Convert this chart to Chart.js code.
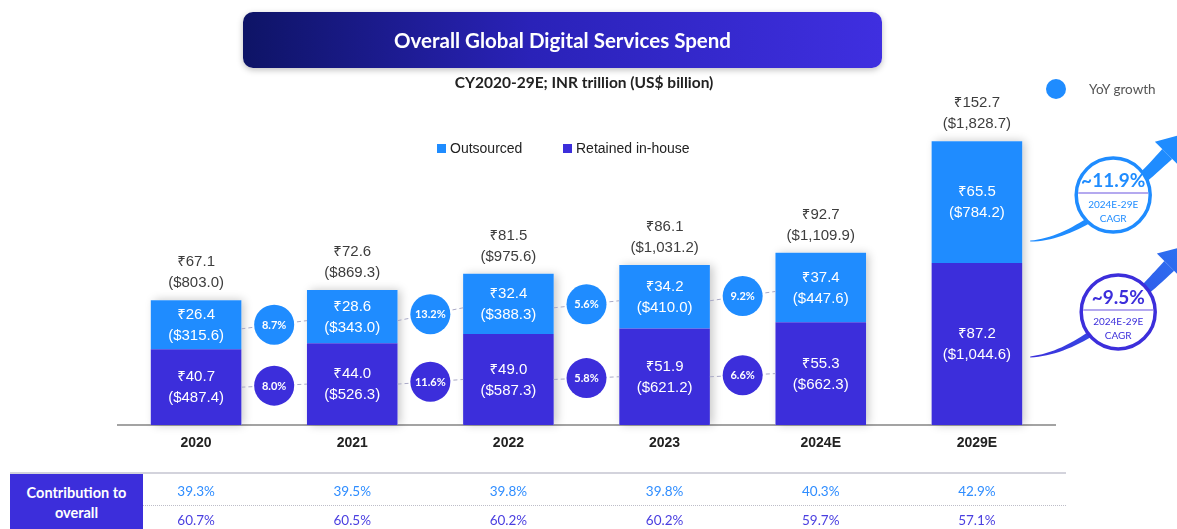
<!DOCTYPE html>
<html>
<head>
<meta charset="utf-8">
<script src="https://cdn.jsdelivr.net/npm/chart.js@4"></script>
<style>
  body { margin: 0; width: 1177px; height: 529px; overflow: hidden; background: #fff; position: relative; font-family: Lato, "Noto Sans", sans-serif; }
  #chart { position: absolute; left: 0; top: 0; }
  .banner { position: absolute; left: 243px; top: 12px; width: 639px; height: 56px; border-radius: 10px;
    background: linear-gradient(90deg, #0e1466 0%, #2a22b8 45%, #3f2fe0 100%);
    box-shadow: 0 2px 6px rgba(0,0,0,0.25); color: #fff; font-weight: 700; font-size: 20.5px;
    display: flex; align-items: center; justify-content: center; }
  .subtitle { position: absolute; left: 384px; width: 400px; top: 74px; line-height: 16px; text-align: center;
    font-weight: 700; font-size: 15.5px; color: #222; }
  .legend { position: absolute; top: 140px; line-height: 16px; font-family: "Liberation Sans", Arial, sans-serif; font-size: 14px; color: #222; }
  .legend i { position: absolute; left: -13px; top: 4px; width: 9px; height: 9px; }
  .yoy-key { position: absolute; left: 1046px; top: 79px; width: 20px; height: 20px; border-radius: 50%; background: #1f8cff; }
  .yoy-text { position: absolute; left: 1089px; top: 81px; font-size: 13.5px; color: #555; line-height: 16px; }
  .tline { position: absolute; left: 10px; top: 472px; width: 1056px; height: 2px; background: #d3d3dc; }
  .tdots { position: absolute; left: 143px; top: 505px; width: 923px; border-top: 1px dotted #bdbdc8; }
  .tbox { position: absolute; left: 10px; top: 474px; width: 133px; height: 55px; background: #3c2edb; color: #fff;
    font-weight: 700; font-size: 14.5px; line-height: 20px; text-align: center; padding-top: 9px; box-sizing: border-box; }
  .cell { position: absolute; transform: translate(-50%, -50%); font-size: 13.5px; white-space: nowrap; }
</style>
</head>
<body>
<canvas id="chart" width="1177" height="529"></canvas>
<div class="banner">Overall Global Digital Services Spend</div>
<div class="subtitle">CY2020-29E; INR trillion (US$ billion)</div>
<div class="legend" style="left:450px"><i style="background:#1f8cff"></i>Outsourced</div>
<div class="legend" style="left:576px"><i style="background:#3c2edb"></i>Retained in-house</div>
<div class="yoy-key"></div>
<div class="yoy-text">YoY growth</div>
<div class="tline"></div>
<div class="tdots"></div>
<div class="tbox">Contribution to<br>overall</div>
<script>
// Data
const categories = ['2020', '2021', '2022', '2023', '2024E', '2029E'];
const outsourcedInr = [26.4, 28.6, 32.4, 34.2, 37.4, 65.5];
const outsourcedUsd = [315.6, 343.0, 388.3, 410.0, 447.6, 784.2];
const retainedInr = [40.7, 44.0, 49.0, 51.9, 55.3, 87.2];
const retainedUsd = [487.4, 526.3, 587.3, 621.2, 662.3, 1044.6];
const totalInr = [67.1, 72.6, 81.5, 86.1, 92.7, 152.7];
const totalUsd = [803.0, 869.3, 975.6, 1031.2, 1109.9, 1828.7];
const yoyOutsourced = [8.7, 13.2, 5.6, 9.2];
const yoyRetained = [8.0, 11.6, 5.8, 6.6];
const cagrOutsourced = 11.9;
const cagrRetained = 9.5;
const cagrPeriod = '2024E-29E';
const shareOutsourced = [39.3, 39.5, 39.8, 39.8, 40.3, 42.9];
const shareRetained = [60.7, 60.5, 60.2, 60.2, 59.7, 57.1];

const BLUE = '#1f8cff';
const PURPLE = '#3c2edb';
const LABEL_FONT = '"Liberation Sans", Arial, "Noto Sans", "DejaVu Sans"';

const usd = v => '($' + v.toLocaleString('en-US', { minimumFractionDigits: 1, maximumFractionDigits: 1 }) + ')';
const inr = v => '₹' + v.toFixed(1);

// tapered curved arrow
function swoosh(ctx, p0, c1, c2, p3, w0, w1, head, fill) {
    const pt = t => {
        const u = 1 - t;
        return [u*u*u*p0[0] + 3*u*u*t*c1[0] + 3*u*t*t*c2[0] + t*t*t*p3[0],
                u*u*u*p0[1] + 3*u*u*t*c1[1] + 3*u*t*t*c2[1] + t*t*t*p3[1]];
    };
    const tan = t => {
        const u = 1 - t;
        const dx = 3*u*u*(c1[0]-p0[0]) + 6*u*t*(c2[0]-c1[0]) + 3*t*t*(p3[0]-c2[0]);
        const dy = 3*u*u*(c1[1]-p0[1]) + 6*u*t*(c2[1]-c1[1]) + 3*t*t*(p3[1]-c2[1]);
        const l = Math.hypot(dx, dy);
        return [dx / l, dy / l];
    };
    const left = [], right = [];
    for (let k = 0; k <= 40; k++) {
        const t = k / 40, p = pt(t), d = tan(t), w = (w0 + (w1 - w0) * t) / 2;
        left.push([p[0] - d[1]*w, p[1] + d[0]*w]);
        right.push([p[0] + d[1]*w, p[1] - d[0]*w]);
    }
    ctx.fillStyle = fill;
    ctx.beginPath();
    left.forEach((p, i) => i ? ctx.lineTo(p[0], p[1]) : ctx.moveTo(p[0], p[1]));
    right.reverse().forEach(p => ctx.lineTo(p[0], p[1]));
    ctx.closePath();
    ctx.fill();
    const d = tan(1), hw = head * 0.58;
    ctx.beginPath();
    ctx.moveTo(p3[0] + d[0]*head, p3[1] + d[1]*head);
    ctx.lineTo(p3[0] - d[1]*hw, p3[1] + d[0]*hw);
    ctx.lineTo(p3[0] + d[1]*hw, p3[1] - d[0]*hw);
    ctx.closePath();
    ctx.fill();
}

function cagrBadge(ctx, cx, cy, value, color) {
    ctx.beginPath();
    ctx.arc(cx, cy, 37, 0, Math.PI * 2);
    ctx.fillStyle = '#fff';
    ctx.fill();
    ctx.lineWidth = 3.5;
    ctx.strokeStyle = color;
    ctx.stroke();
    ctx.strokeStyle = '#b4a9ef';
    ctx.lineWidth = 2;
    ctx.beginPath();
    ctx.moveTo(cx - 35, cy - 2);
    ctx.lineTo(cx + 35, cy - 2);
    ctx.stroke();
    ctx.fillStyle = color;
    ctx.textAlign = 'center';
    ctx.textBaseline = 'middle';
    ctx.font = 'bold 19px Lato';
    ctx.fillText('~' + value.toFixed(1) + '%', cx, cy - 14);
    ctx.font = '10px Lato';
    ctx.fillText(cagrPeriod, cx, cy + 10);
    ctx.fillText('CAGR', cx, cy + 24);
}

const overlay = {
    id: 'overlay',
    beforeDatasetsDraw(chart) {
        // soft shadow behind each stacked column
        const ctx = chart.ctx;
        const ret = chart.getDatasetMeta(0).data;
        const out = chart.getDatasetMeta(1).data;
        ctx.save();
        ctx.shadowColor = 'rgba(0,0,0,0.22)';
        ctx.shadowBlur = 9;
        ctx.shadowOffsetX = 3;
        ctx.fillStyle = '#fff';
        out.forEach((b, i) => {
            ctx.fillRect(b.x - b.width / 2, b.y, b.width, ret[i].base - b.y);
        });
        ctx.restore();
    },
    afterDatasetsDraw(chart) {
        const ctx = chart.ctx;
        const ret = chart.getDatasetMeta(0).data;
        const out = chart.getDatasetMeta(1).data;
        ctx.save();
        ctx.textAlign = 'center';
        ctx.textBaseline = 'middle';

        // values inside segments and totals on top
        categories.forEach((c, i) => {
            const o = out[i], r = ret[i];
            ctx.fillStyle = '#fff';
            ctx.font = '15px ' + LABEL_FONT;
            let cy = (o.y + o.base) / 2;
            ctx.fillText(inr(outsourcedInr[i]), o.x, cy - 10);
            ctx.fillText(usd(outsourcedUsd[i]), o.x, cy + 11);
            cy = (r.y + r.base) / 2;
            ctx.fillText(inr(retainedInr[i]), r.x, cy - 10);
            ctx.fillText(usd(retainedUsd[i]), r.x, cy + 11);
            ctx.fillStyle = '#3d3d3d';
            ctx.fillText(inr(totalInr[i]), o.x, o.y - 38);
            ctx.fillText(usd(totalUsd[i]), o.x, o.y - 17);
        });

        // YoY connectors and bubbles
        [[out, yoyOutsourced, BLUE, 4], [ret, yoyRetained, PURPLE, 0]].forEach(([bars, vals, col, dy]) => {
            vals.forEach((v, i) => {
                const a = bars[i], b = bars[i + 1];
                const xa = a.x + a.width / 2, xb = b.x - b.width / 2;
                const ya = (a.y + a.base) / 2 + dy, yb = (b.y + b.base) / 2 + dy;
                ctx.setLineDash([4, 3]);
                ctx.strokeStyle = '#a9a9c6';
                ctx.lineWidth = 1;
                ctx.beginPath();
                ctx.moveTo(xa, ya);
                ctx.lineTo(xb, yb);
                ctx.stroke();
                ctx.setLineDash([]);
                const cx = (xa + xb) / 2, cy = (ya + yb) / 2;
                ctx.beginPath();
                ctx.arc(cx, cy, 20, 0, Math.PI * 2);
                ctx.fillStyle = col;
                ctx.fill();
                ctx.fillStyle = '#fff';
                ctx.font = 'bold 11px Lato';
                ctx.fillText(v.toFixed(1) + '%', cx, cy + 0.5);
            });
        });

        // CAGR arrows and badges next to the last column
        const last = categories.length - 1;
        const o = out[last], r = ret[last];
        const R = o.x + o.width / 2;
        const yo = (o.y + o.base) / 2;
        const s = r.y;
        swoosh(ctx, [R + 8, yo + 39], [R + 60, yo + 37], [R + 115, yo - 18], [R + 145, yo - 48], 1, 14, 30, BLUE);
        const g = ctx.createLinearGradient(R, s + 94, R + 170, s - 15);
        g.addColorStop(0, PURPLE);
        g.addColorStop(1, '#2b74f2');
        swoosh(ctx, [R + 8, s + 94], [R + 62, s + 90], [R + 117, s + 33], [R + 147, s + 3], 1, 14, 30, g);
        cagrBadge(ctx, R + 91, yo - 7, cagrOutsourced, BLUE);
        cagrBadge(ctx, R + 96, s + 49, cagrRetained, PURPLE);
        ctx.restore();
    }
};

const chart = new Chart(document.getElementById('chart'), {
    type: 'bar',
    data: {
        labels: categories,
        datasets: [
            { label: 'Retained in-house', data: retainedInr, backgroundColor: PURPLE },
            { label: 'Outsourced', data: outsourcedInr, backgroundColor: BLUE }
        ]
    },
    options: {
        responsive: false,
        devicePixelRatio: 1,
        animation: false,
        events: [],
        layout: { padding: { left: 118, right: 122, top: 109, bottom: 74 } },
        plugins: { legend: { display: false }, tooltip: { enabled: false } },
        datasets: { bar: { barPercentage: 0.58, categoryPercentage: 1, borderWidth: 0 } },
        scales: {
            x: {
                stacked: true,
                grid: { drawOnChartArea: false, drawTicks: false },
                border: { color: '#a3a3a3', width: 2 },
                ticks: { padding: 10, color: '#222', font: { family: LABEL_FONT, size: 14, weight: 'bold' } },
                afterFit: s => { s.height = 30; }
            },
            y: { stacked: true, display: false, min: 0, max: 170 }
        }
    },
    plugins: [overlay]
});

// bottom table, aligned to the category axis
const xs = chart.scales.x;
categories.forEach((c, i) => {
    const px = xs.getPixelForValue(i);
    [[shareOutsourced, 491, '#2f8dff'], [shareRetained, 520, '#4a3fe0']].forEach(([vals, y, col]) => {
        const d = document.createElement('div');
        d.className = 'cell';
        d.style.left = px + 'px';
        d.style.top = y + 'px';
        d.style.color = col;
        d.textContent = vals[i].toFixed(1) + '%';
        document.body.appendChild(d);
    });
});
</script>
</body>
</html>
